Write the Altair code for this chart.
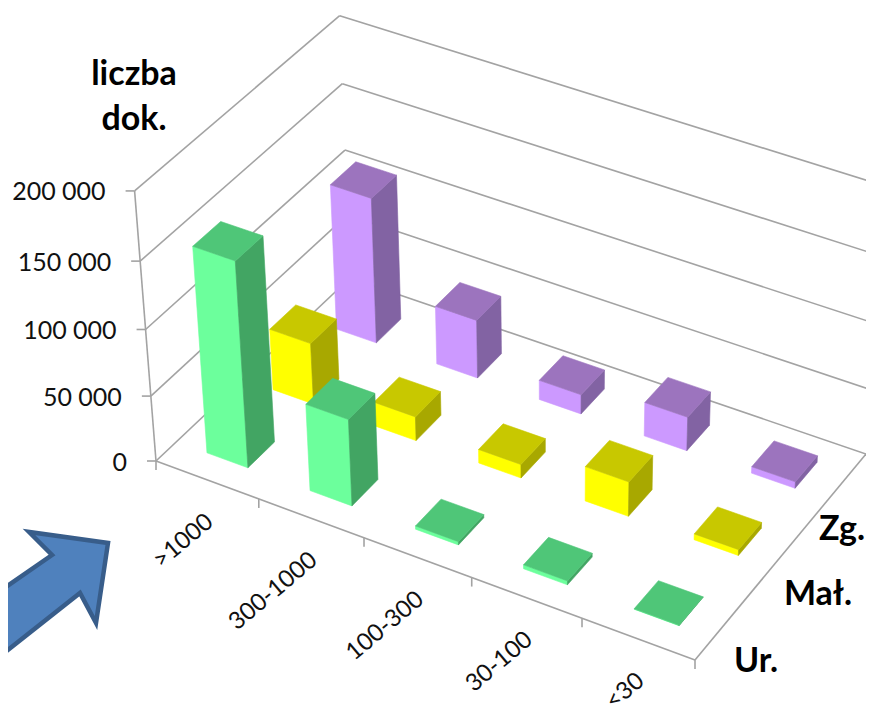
import numpy as np
import pandas as pd
import altair as alt

categories = [">1000", "300-1000", "100-300", "30-100", "<30"]
series = ["Ur.", "Mał.", "Zg."]
ur_values = [155000, 66000, 2500, 3000, 300]
mal_values = [47000, 18500, 10500, 26500, 4500]
zg_values = [111500, 45000, 15000, 26000, 5000]
y_ticks = [0, 50000, 100000, 150000, 200000]
y_tick_labels = ["0", "50 000", "100 000", "150 000", "200 000"]
front_colors = ["#6CFF9C", "#FFFF00", "#CC99FF"]
top_colors = ["#4FC678", "#C8C800", "#9C74BE"]
side_colors = ["#42A563", "#A8A800", "#8263A3"]
arrow_x = [-30, 52, 29, 108, 96, 80, -30]
arrow_y = [612, 555, 532, 543, 623, 593, 680]

# camera calibrated on the reference's floor corners and wall corners
floor_uv = [(0, 0), (5, 0), (5, 3), (0, 3)]
floor_px = [(156, 461), (695, 660), (866, 454), (350, 278)]
top_uv = [(0, 0), (0, 0), (0, 0), (0, 3), (5, 3)]
top_px = [(135, 192), (135, 192), (135, 192), (339, 13), (882, 185)]

A = []
for (u, v), (x, y) in zip(floor_uv, floor_px):
    A.append([u, v, 1, 0, 0, 0, -x * u, -x * v, -x])
    A.append([0, 0, 0, u, v, 1, -y * u, -y * v, -y])
H = np.linalg.svd(np.array(A, float))[2][-1].reshape(3, 3)
H = H / H[2, 2]
B, b = [], []
for (u, v), (x, y) in zip(top_uv, top_px):
    p = H @ np.array([u, v, 1.0])
    B.append([1, 0, -x]); b.append(x * p[2] - p[0])
    B.append([0, 1, -y]); b.append(y * p[2] - p[1])
c = np.linalg.lstsq(np.array(B, float), np.array(b, float), rcond=None)[0]


def proj(u, v, value=0.0):
    p = H @ np.array([u, v, 1.0]) + (value / 200000.0) * c
    return float(p[0] / p[2]), float(p[1] / p[2])


lines = []
def add_line(pid, pts):
    for k, (x, y) in enumerate(pts):
        lines.append({"id": pid, "k": k, "x": x, "y": y})


for t in y_ticks:
    add_line(f"left{t}", [proj(0, 0, t), proj(0, 3, t)])
    add_line(f"back{t}", [proj(0, 3, t), proj(5, 3, t)])
    fx, fy = proj(0, 0, t)
    add_line(f"tick{t}", [(fx - 9, fy), (fx, fy)])
add_line("axisv", [proj(0, 0, 0), proj(0, 0, 200000)])
add_line("front", [proj(0, 0), proj(5, 0)])
add_line("right", [proj(5, 0), proj(5, 3)])
for i in range(6):
    fx, fy = proj(i, 0)
    add_line(f"xt{i}", [(fx, fy), (fx, fy + 9)])

polys = []
pid = 0
def add_poly(pts, color):
    global pid
    for k, (x, y) in enumerate(pts):
        polys.append({"id": f"p{pid:03d}", "k": k, "x": x, "y": y, "col": color})
    pid += 1


all_values = [ur_values, mal_values, zg_values]
for j in [2, 1, 0]:
    for i in range(5):
        val = all_values[j][i]
        u0, u1 = i + 0.3, i + 0.7
        v0, v1 = j + 0.3, j + 0.7
        add_poly([proj(u0, v0), proj(u1, v0), proj(u1, v0, val), proj(u0, v0, val)], front_colors[j])
        add_poly([proj(u1, v0), proj(u1, v1), proj(u1, v1, val), proj(u1, v0, val)], side_colors[j])
        add_poly([proj(u0, v0, val), proj(u1, v0, val), proj(u1, v1, val), proj(u0, v1, val)], top_colors[j])

arrow = pd.DataFrame({"x": arrow_x, "y": arrow_y, "k": range(len(arrow_x))})

xs = alt.Scale(domain=[8, 866], range=[0, 858])
ys = alt.Scale(domain=[705, 8])
X = alt.X("x:Q", scale=xs, axis=None)
Y = alt.Y("y:Q", scale=ys, axis=None)

grid = alt.Chart(pd.DataFrame(lines)).mark_line(color="#A3A3A3", strokeWidth=1.6, clip=False).encode(
    x=X, y=Y, detail="id:N", order="k:Q")
bars = alt.Chart(pd.DataFrame(polys)).mark_line(strokeWidth=0.6, strokeJoin="round", interpolate="linear-closed").encode(
    x=X, y=Y, detail="id:N", order="k:Q",
    fill=alt.Fill("col:N", scale=None), stroke=alt.Stroke("col:N", scale=None))
arrow_layer = alt.Chart(arrow).mark_line(fill="#4F81BD", stroke="#385D8A", strokeWidth=4.5, strokeJoin="miter",
                                         interpolate="linear-closed").encode(x=X, y=Y, order="k:Q")

ytick_df = pd.DataFrame([{"x": proj(0, 0, t)[0] - 29, "y": proj(0, 0, t)[1] + 1.5, "t": l}
                         for t, l in zip(y_ticks, y_tick_labels)])
ylab = alt.Chart(ytick_df).mark_text(align="right", baseline="middle", font="Lato", fontSize=25, color="#111111").encode(
    x=X, y=Y, text="t:N")
cat_df = pd.DataFrame([{"x": proj(i + 0.5, 0)[0] + 3, "y": proj(i + 0.5, 0)[1] + 39, "t": l}
                       for i, l in enumerate(categories)])
xlab = alt.Chart(cat_df).mark_text(align="right", baseline="middle", angle=320, font="Lato", fontSize=24, color="#111111").encode(
    x=X, y=Y, text="t:N")
title_df = pd.DataFrame({"x": [134, 134, 842, 818, 756], "y": [75, 120, 530, 595, 662],
                         "t": ["liczba", "dok.", "Zg.", "Mał.", "Ur."]})
tlab = alt.Chart(title_df).mark_text(align="center", baseline="middle", font="Lato", fontWeight="bold", fontSize=34, color="black").encode(
    x=X, y=Y, text="t:N")

chart = alt.layer(grid, bars, arrow_layer, ylab, xlab, tlab).properties(
    width=858, height=697, padding=0,
    autosize=alt.AutoSizeParams(type="none"),
).configure_view(stroke=None)
chart.save("out.html", embed_options={"renderer": "svg", "actions": False})
